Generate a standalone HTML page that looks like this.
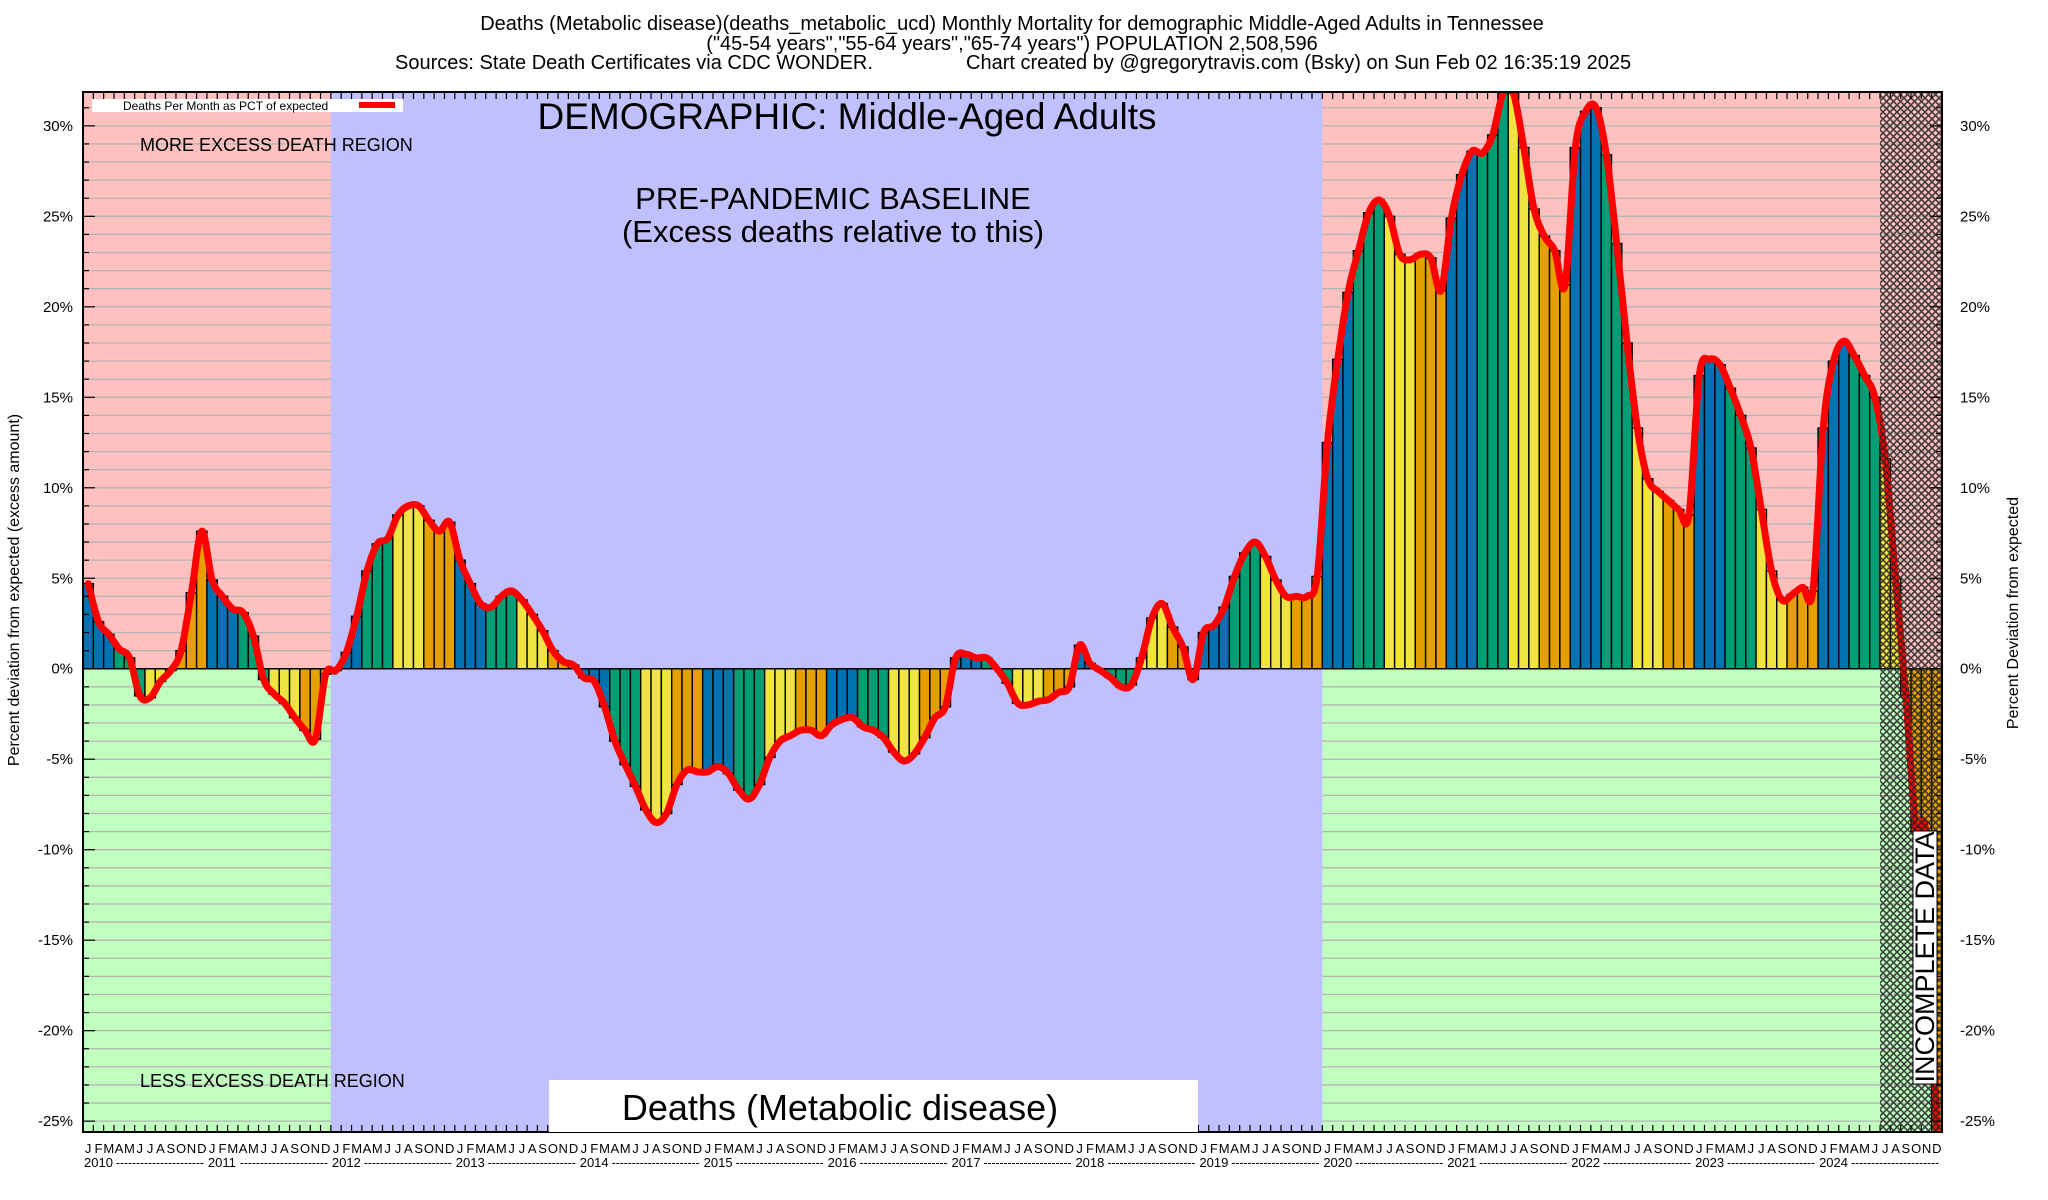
<!DOCTYPE html>
<html><head><meta charset="utf-8">
<style>
html,body{margin:0;padding:0;background:#fff;}
svg{display:block;font-family:"Liberation Sans",sans-serif;}
</style></head>
<body>
<svg id="chart" width="2048" height="1200" viewBox="0 0 2048 1200" xmlns="http://www.w3.org/2000/svg">
<defs>
<pattern id="hatch" width="7" height="7" patternUnits="userSpaceOnUse">
<path d="M0,0 L7,7 M7,0 L0,7" stroke="#222" stroke-width="1.6" opacity="0.85"/>
</pattern>
<clipPath id="plotclip"><rect x="83" y="92" width="1859" height="1040"/></clipPath>
</defs>
<g font-size="20" text-anchor="middle" fill="#000">
<text x="1012" y="30">Deaths (Metabolic disease)(deaths_metabolic_ucd) Monthly Mortality for demographic Middle-Aged Adults in Tennessee</text>
<text x="1012" y="50">("45-54 years","55-64 years","65-74 years") POPULATION 2,508,596</text>
<text x="395" y="69" text-anchor="start">Sources: State Death Certificates via CDC WONDER.</text>
<text x="966" y="69" text-anchor="start">Chart created by @gregorytravis.com (Bsky) on Sun Feb 02 16:35:19 2025</text>
</g>
<g id="bg" clip-path="url(#plotclip)"></g>
<g id="bars" clip-path="url(#plotclip)"></g>
<g id="line" clip-path="url(#plotclip)"></g>
<g id="hatchg"></g>
<g id="axes"></g>
<g id="annot"></g>
</svg>
<script>
const months = ["J","F","M","A","M","J","J","A","S","O","N","D"];
const years = [2010,2011,2012,2013,2014,2015,2016,2017,2018,2019,2020,2021,2022,2023,2024];
const values = [
4.7,2.6,1.9,1.1,0.6,-1.5,-1.6,-0.7,-0.1,1.0,4.2,7.6,
4.9,4.0,3.3,3.1,1.8,-0.6,-1.4,-1.9,-2.7,-3.4,-3.9,-0.3,
-0.1,0.9,2.9,5.4,6.9,7.2,8.5,9.0,9.0,8.2,7.6,8.1,
6.0,4.7,3.6,3.4,4.0,4.3,3.8,3.0,2.1,1.0,0.4,0.2,
-0.5,-0.7,-2.1,-4.0,-5.3,-6.5,-7.8,-8.5,-8.0,-6.4,-5.6,-5.7,
-5.7,-5.4,-5.8,-6.7,-7.2,-6.4,-4.9,-4.0,-3.7,-3.4,-3.4,-3.7,
-3.1,-2.8,-2.7,-3.2,-3.4,-3.8,-4.6,-5.1,-4.7,-3.8,-2.7,-2.1,
0.6,0.8,0.6,0.6,0.0,-0.8,-1.9,-2.0,-1.8,-1.7,-1.3,-1.0,
1.3,0.3,-0.1,-0.5,-1.0,-0.9,0.6,2.8,3.6,2.3,1.2,-0.6,
2.0,2.4,3.4,5.1,6.4,7.0,6.2,4.9,4.0,4.0,4.0,5.1,
12.5,17.1,20.8,23.1,25.2,25.9,25.0,22.9,22.6,22.9,22.7,20.9,
24.9,27.3,28.6,28.5,29.5,31.8,31.8,28.8,25.4,23.9,23.1,21.2,
28.8,30.8,31.0,28.4,23.5,18.0,13.3,10.5,9.8,9.3,8.8,8.5,
16.2,17.1,16.8,15.5,14.0,12.2,8.8,5.4,3.8,4.1,4.5,4.3,
13.3,17.0,18.1,17.3,16.2,15.0,11.6,5.0,-1.5,-9.0,-9.5,-25.6
];
const yTicks = [30,25,20,15,10,5,0,-5,-10,-15,-20,-25];
const baselineStartMonth = 24, baselineEndMonth = 120, incompleteStartMonth = 174;
const quarterColors = ["#0072b2","#009e73","#f0e442","#e69f00"];

const NS="http://www.w3.org/2000/svg";
const X0=83,X1=1942,Y0=92,Y1=1132,YMAX=31.87,YMIN=-25.6;
const N=values.length, MW=(X1-X0)/180;
function xs(m){return X0+m*MW;}
function ys(v){return Y0+(YMAX-v)/(YMAX-YMIN)*(Y1-Y0);}
function mk(tag,attrs,parent){const e=document.createElementNS(NS,tag);for(const k in attrs)e.setAttribute(k,attrs[k]);parent.appendChild(e);return e;}
const bg=document.getElementById('bg'),bars=document.getElementById('bars'),lineG=document.getElementById('line'),
hatchG=document.getElementById('hatchg'),axes=document.getElementById('axes'),annot=document.getElementById('annot');
const zy=ys(0);
let r;
r=mk('rect',{x:X0,y:Y0,width:X1-X0,height:zy-Y0,fill:'#ffc0c0'},bg);


r=mk('rect',{x:X0,y:zy,width:X1-X0,height:Y1-zy,fill:'#c0ffc0'},bg);


for(let v=Math.ceil(YMIN);v<=Math.floor(YMAX);v++){
  if(v===0)continue;
  const l=mk('line',{x1:X0,x2:X1,y1:ys(v),y2:ys(v),stroke:'#b4b4b4','stroke-width':1.3},bg);
  
  
}
r=mk('rect',{x:xs(baselineStartMonth),y:Y0,width:xs(baselineEndMonth)-xs(baselineStartMonth),height:Y1-Y0,fill:'#c0c0ff'},bg);


for(let i=0;i<N;i++){
  const v=values[i];
  const y=Math.min(ys(v),zy),h=Math.abs(ys(v)-zy);
  const b=mk('rect',{x:xs(i),y:y,width:MW,height:h,fill:quarterColors[Math.floor((i%12)/3)],stroke:'#000','stroke-width':1.4},bars);
  
  
}
const zl=mk('line',{x1:X0,x2:X1,y1:zy,y2:zy,stroke:'#000','stroke-width':1.5},bars);


const pts=values.map((v,i)=>[xs(i)+MW/2,ys(v)]);
let d='M'+pts[0][0]+','+pts[0][1];
for(let i=0;i<pts.length-1;i++){
  const p0=pts[Math.max(0,i-1)],p1=pts[i],p2=pts[i+1],p3=pts[Math.min(pts.length-1,i+2)];
  const t=0.5/3;
  d+=' C'+(p1[0]+(p2[0]-p0[0])*t)+','+(p1[1]+(p2[1]-p0[1])*t)+' '+(p2[0]-(p3[0]-p1[0])*t)+','+(p2[1]-(p3[1]-p1[1])*t)+' '+p2[0]+','+p2[1];
}
const pl=mk('path',{d:d,fill:'none',stroke:'#ff0000','stroke-width':7,'stroke-linejoin':'round','stroke-linecap':'round'},lineG);


const hx=xs(incompleteStartMonth);
r=mk('rect',{x:hx,y:Y0,width:X1-hx,height:Y1-Y0,fill:'url(#hatch)'},hatchG);


r=mk('rect',{x:X0,y:Y0,width:X1-X0,height:Y1-Y0,fill:'none',stroke:'#000','stroke-width':2},axes);


for(let i=0;i<=180;i++){
  const x=xs(i);
  mk('line',{x1:x,x2:x,y1:Y0,y2:Y0+7,stroke:'#000','stroke-width':1.2},axes);
  mk('line',{x1:x,x2:x,y1:Y1,y2:Y1-7,stroke:'#000','stroke-width':1.2},axes);
}
for(let v=Math.ceil(YMIN);v<=Math.floor(YMAX);v++){
  const len=(v%5===0)?12:6;
  mk('line',{x1:X0,x2:X0+len,y1:ys(v),y2:ys(v),stroke:'#000','stroke-width':1.2},axes);
  mk('line',{x1:X1,x2:X1-len,y1:ys(v),y2:ys(v),stroke:'#000','stroke-width':1.2},axes);
}
yTicks.forEach(v=>{
  const t=mk('text',{x:73,y:ys(v)+5,'font-size':15,'text-anchor':'end'},axes);
  t.textContent=v+'%';
  
  
  const t2=mk('text',{x:1960,y:ys(v)+5,'font-size':15,'text-anchor':'start'},axes);
  t2.textContent=v+'%';
  
  
});
for(let i=0;i<180;i++){
  const t=mk('text',{x:xs(i)+MW/2,y:1153,'font-size':13,'text-anchor':'middle'},axes);
  t.textContent=months[i%12];
  
  
}
years.forEach((yr,k)=>{
  const x=xs(k*12);
  const t=mk('text',{x:x+1,y:1167,'font-size':13,'text-anchor':'start'},axes);
  t.textContent=yr;
  
  
  const dsh=mk('text',{x:x+33,y:1167,'font-size':13,textLength:MW*12-36,lengthAdjust:'spacingAndGlyphs'},axes);
  dsh.textContent='----------------------';
});
</script>
<script>
(function(){
const NS="http://www.w3.org/2000/svg",svg=document.getElementById('annot');
function txt(x,y,s,size,anchor,name,extra){const t=document.createElementNS(NS,'text');t.setAttribute('x',x);t.setAttribute('y',y);t.setAttribute('font-size',size);t.setAttribute('text-anchor',anchor);if(extra)for(const k in extra)t.setAttribute(k,extra[k]);t.textContent=s;svg.appendChild(t);return t;}
function rect(a,name){const r=document.createElementNS(NS,'rect');for(const k in a)r.setAttribute(k,a[k]);svg.appendChild(r);return r;}
rect({x:92,y:99,width:311,height:13,fill:'#fff'},'legend-box');
txt(123,110,'Deaths Per Month as PCT of expected',12,'start','legend-label');
rect({x:359,y:102,width:36,height:6,fill:'#ff0000'},'legend-swatch');
txt(847,129,'DEMOGRAPHIC: Middle-Aged Adults',37,'middle','demographic-title');
txt(140,151,'MORE EXCESS DEATH REGION',18,'start','more-excess-label');
txt(140,1087,'LESS EXCESS DEATH REGION',18,'start','less-excess-label');
txt(833,209,'PRE-PANDEMIC BASELINE',31,'middle','baseline-label');
txt(833,242,'(Excess deaths relative to this)',31,'middle','baseline-sublabel');
rect({x:549,y:1080,width:649,height:52,fill:'#fff'},'metric-box');
txt(840,1120,'Deaths (Metabolic disease)',36,'middle','metric-label');
rect({x:1913,y:831,width:24,height:253,fill:'#fff',stroke:'#000','stroke-width':1},'incomplete-box');
txt(0,0,'INCOMPLETE DATA',27,'middle','incomplete-data-label',{transform:'translate(1934,957) rotate(-90)'});
txt(0,0,'Percent deviation from expected (excess amount)',16,'middle','y-axis-title',{transform:'translate(19,590) rotate(-90)'});
txt(0,0,'Percent Deviation from expected',16,'middle','y-axis-title-right',{transform:'translate(2018,613) rotate(-90)'});
})();
</script>
</body></html>
